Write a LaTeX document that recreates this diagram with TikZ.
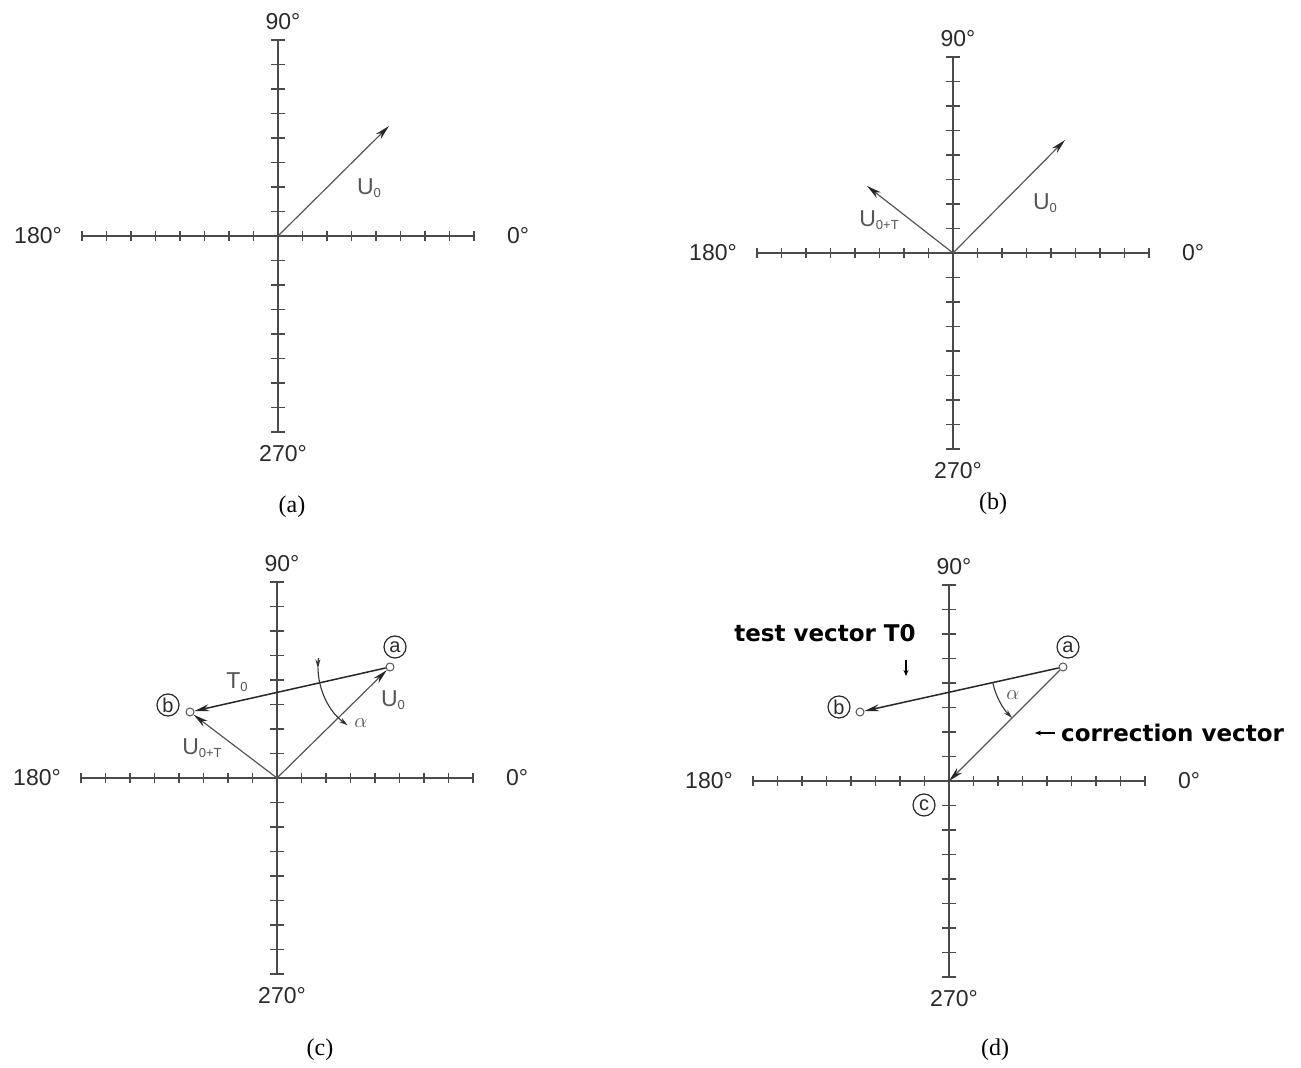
\documentclass[tikz,border=0pt]{standalone}
\usepackage{fontspec}
\setmainfont{Liberation Serif}
\setsansfont{Liberation Sans}
\newfontfamily\notefont{DejaVu Sans}
\usetikzlibrary{arrows.meta,calc,positioning}

\definecolor{axisgray}{HTML}{4A4A4A}
\definecolor{vecgray}{HTML}{555555}
\definecolor{labgray}{HTML}{2A2A2A}

\tikzset{
  axisline/.style={axisgray, line width=1.8pt},
  tickmark/.style={axisgray, line width=1.3pt},
  vec/.style={vecgray, line width=1.2pt, -{Stealth[length=15pt,width=7pt,color=black!85]}},
  darkvec/.style={black!85, line width=1.5pt, -{Stealth[length=15pt,width=7pt]}},
  anglearc/.style={black!80, line width=1.1pt, -{Stealth[length=9pt,width=5pt]}},
  deglabel/.style={labgray, font=\fontsize{23}{23}\sffamily, inner sep=0pt},
  veclabel/.style={vecgray, font=\fontsize{23}{23}\sffamily, inner sep=0pt},
  figcap/.style={black, font=\fontsize{24}{24}\selectfont, inner sep=0pt},
  ptdot/.style={circle, draw=vecgray, fill=white, line width=1pt, minimum size=8pt, inner sep=0pt},
  ptname/.style={circle, draw=labgray, line width=1.2pt, minimum size=22pt, inner sep=0pt,
    font=\fontsize{20}{20}\sffamily, labgray},
  notetext/.style={black, font=\fontsize{23}{23}\notefont\bfseries, inner sep=0pt},
}

% subscript of the vector labels
\newcommand{\vsub}[1]{\raisebox{-3pt}{\fontsize{13}{13}\selectfont #1}}

% axes with ticks and the four angle labels
\newcommand{\polaraxes}[1]{%
  \draw[axisline] (-196,0) -- (196,0);
  \draw[axisline] (0,-196) -- (0,196);
  \foreach \k in {-8,...,-1,1,2,...,8}{
    \draw[tickmark] (\k*24.5,-5) -- (\k*24.5,5);
    \draw[tickmark] (-7,\k*24.5) -- (7,\k*24.5);
  }
  \node[deglabel] (#1-n) at (5,214) {90°};
  \node[deglabel] (#1-w) at (-240,0) {180°};
  \node[deglabel] (#1-e) at (240,0) {0°};
  \node[deglabel] (#1-s) at (5,-218) {270°};
}

\begin{document}
\begin{tikzpicture}[x=1pt, y=1pt]
\useasboundingbox (0,0) rectangle (1301,1068);

% =========================================================
% (a): one vector U0
% =========================================================
\begin{scope}[shift={(278,832)}]
  \polaraxes{A}
  \coordinate (A-o) at (0,0);
  \coordinate (A-u) at (111,110);
  \draw[vec] (A-o) -- (A-u);
  \node[veclabel] (A-ulab) at (91,48) {U\vsub{0}};
  \node[figcap] (A-cap) at (14,-271) {(a)};
\end{scope}

% =========================================================
% (b): U0 and U0+T
% =========================================================
\begin{scope}[shift={(953,815)}]
  \polaraxes{B}
  \coordinate (B-o) at (0,0);
  \coordinate (B-u) at (112,113);
  \coordinate (B-t) at (-86,67);
  \draw[vec] (B-o) -- (B-u);
  \draw[vec] (B-o) -- (B-t);
  \node[veclabel] (B-ulab) at (92,50) {U\vsub{0}};
  \node[veclabel] (B-tlab) at (-74,33) {U\vsub{0+T}};
  \node[figcap] (B-cap) at (40,-251) {(b)};
\end{scope}

% =========================================================
% (c): test vector T0 from a to b
% =========================================================
\begin{scope}[shift={(277,290)}]
  \polaraxes{C}
  \coordinate (C-o) at (0,0);
  \node[ptdot] (C-a) at (113,111) {};
  \node[ptdot] (C-b) at (-87,66) {};
  \node[ptname] (C-aname) at (118,131) {a};
  \node[ptname] (C-bname) at (-109,73) {b};
  \draw[vec] (C-o) -- (C-a);
  \draw[vec] (C-o) -- (C-b);
  \draw[darkvec] (C-a) -- (C-b);
  \node[veclabel] (C-tlab) at (-40,96) {T\vsub{0}};
  \node[veclabel] (C-ulab) at (116,78) {U\vsub{0}};
  \node[veclabel] (C-vlab) at (-75,30) {U\vsub{0+T}};
  % angle between T0 and U0
  \draw[anglearc] ($(C-a.center)+(173:72)$) arc[start angle=173, end angle=181, radius=72];
  \draw[anglearc] ($(C-a.center)+(181:72)$) arc[start angle=181, end angle=234, radius=72];
  \node[vecgray, font=\fontsize{22}{22}\selectfont, inner sep=0pt] (C-alpha) at (84,55) {$\alpha$};
  \node[figcap] (C-cap) at (43,-272) {(c)};
\end{scope}

% =========================================================
% (d): correction vector from a to c
% =========================================================
\begin{scope}[shift={(949,287)}]
  \polaraxes{D}
  \coordinate (D-o) at (0,0);
  \node[ptdot] (D-a) at (114,114) {};
  \node[ptdot] (D-b) at (-89,69) {};
  \node[ptname] (D-aname) at (119,134) {a};
  \node[ptname] (D-bname) at (-110,74) {b};
  \node[ptname] (D-cname) at (-25,-24) {c};
  \draw[darkvec] (D-a) -- (D-b);
  \draw[vec] (D-a) -- (D-o);
  % angle alpha
  \draw[anglearc] ($(D-a.center)+(193:72)$) arc[start angle=193, end angle=225, radius=72];
  \node[vecgray, font=\fontsize{22}{22}\selectfont, inner sep=0pt] (D-alpha) at (64,86) {$\alpha$};
  % notes
  \node[notetext] (D-test) at (-124,148) {test vector T0};
  \coordinate (D-tarr) at (-43,121);
  \draw[black, line width=1.2pt, -{Stealth[length=6pt,width=5pt]}] (D-tarr) -- ++(0,-16);
  \node[notetext, anchor=west] (D-corr) at (112,48) {correction vector};
  \draw[black, line width=1.2pt, -{Stealth[length=6pt,width=5pt]}] ([xshift=-6pt]D-corr.west) -- ++(-20,0);
  \node[figcap] (D-cap) at (46,-269) {(d)};
\end{scope}

\end{tikzpicture}
\end{document}
